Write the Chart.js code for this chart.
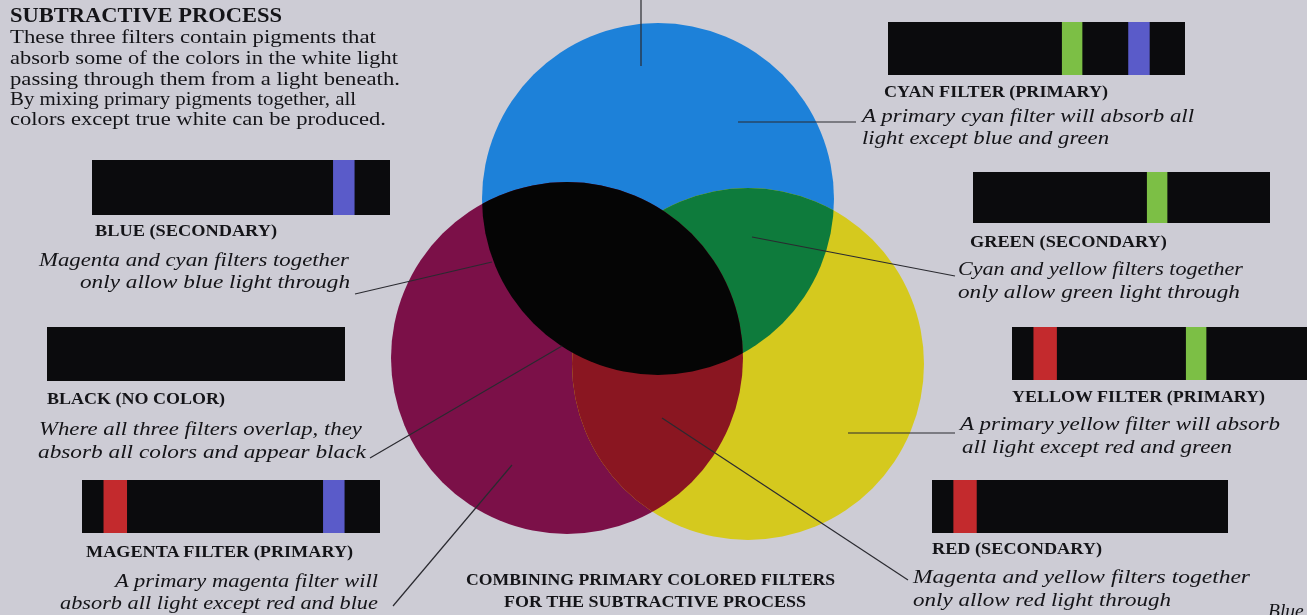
<!DOCTYPE html>
<html>
<head>
<meta charset="utf-8">
<script src="https://cdn.jsdelivr.net/npm/chart.js@4.4.0/dist/chart.umd.min.js"></script>
<style>
  html, body { margin: 0; padding: 0; }
  body {
    width: 1307px; height: 615px; overflow: hidden; position: relative;
    background: #cdccd5; color: #141418;
    font-family: "Liberation Serif", "DejaVu Serif", serif;
  }
  #venn { position: absolute; left: 0; top: 0; }
  .strip { position: absolute; }
  .t { position: absolute; white-space: nowrap; line-height: 1; transform-origin: left center; }
  .h { font-weight: bold; font-size: 20px; }
  .r { font-size: 18.5px; }
  .b { font-weight: bold; font-size: 16.5px; }
  .i { font-style: italic; font-size: 19.5px; }
</style>
</head>
<body>
<canvas id="venn" width="1307" height="615"></canvas>
<div id="strips"></div>
<div id="texts"></div>
<script>
// Three primary filters (centre and radius on the page scale)
const filterNames = ['Cyan', 'Magenta', 'Yellow'];
const filterX = [658, 567, 748];
const filterY = [199, 358, 364];
const filterR = [176, 176, 176];

// Spectrum strips: which bands each filter/combination lets through
const stripNames = ['cyan', 'blue', 'black', 'magenta', 'green', 'yellow', 'red'];
const passRed   = [0, 0, 0, 1, 0, 1, 1];
const passGreen = [1, 0, 0, 0, 1, 1, 0];
const passBlue  = [1, 1, 0, 1, 0, 0, 0];

// Wavelengths in nm
const spectrumNm  = [400, 700];
const redBandNm   = [655, 678];
const greenBandNm = [504, 524];
const blueBandNm  = [436, 457];

// Leader lines from the labels into the circles
const leaderLines = [
  [[641, 0], [641, 66]],
  [[738, 122], [856, 122]],
  [[752, 237], [955, 276]],
  [[355, 294], [492, 262]],
  [[370, 458], [562, 346]],
  [[393, 606], [512, 465]],
  [[662, 418], [908, 580]],
  [[848, 433], [955, 433]]
];

// Colours
const filterColors = ['#1d81d9', '#7b1048', '#d5c91e'];
const overlaps = [
  [0, 2, '#0e7b3c'],  // cyan + yellow = green
  [1, 2, '#8a1621'],  // magenta + yellow = red
  [0, 1, '#050505']   // cyan + magenta = black
];
const bandColors = { red: '#c32a2d', green: '#7cbf45', blue: '#5a5bc9', base: '#0b0b0d' };

// Strip boxes: left, top, width, height
const stripBoxes = [
  [888, 22, 297, 53],
  [92, 160, 298, 55],
  [47, 327, 298, 54],
  [82, 480, 298, 53],
  [973, 172, 297, 51],
  [1012, 327, 297, 53],
  [932, 480, 296, 53]
];

// Text: class, text, left, centre y, width
const labels = [
  ['h', 'SUBTRACTIVE PROCESS', 10, 15, 272],
  ['r', 'These three filters contain pigments that', 10, 38, 366],
  ['r', 'absorb some of the colors in the white light', 10, 59, 388],
  ['r', 'passing through them from a light beneath.', 10, 80, 390],
  ['r', 'By mixing primary pigments together, all', 10, 100, 346],
  ['r', 'colors except true white can be produced.', 10, 120, 376],
  ['b', 'CYAN FILTER (PRIMARY)', 884, 92, 224],
  ['i', 'A primary cyan filter will absorb all', 862, 117, 332],
  ['i', 'light except blue and green', 862, 139, 247],
  ['b', 'BLUE (SECONDARY)', 95, 231, 182],
  ['i', 'Magenta and cyan filters together', 39, 261, 310],
  ['i', 'only allow blue light through', 80, 283, 270],
  ['b', 'BLACK (NO COLOR)', 47, 399, 178],
  ['i', 'Where all three filters overlap, they', 39, 430, 323],
  ['i', 'absorb all colors and appear black', 38, 453, 328],
  ['b', 'MAGENTA FILTER (PRIMARY)', 86, 552, 267],
  ['i', 'A primary magenta filter will', 115, 582, 263],
  ['i', 'absorb all light except red and blue', 60, 604, 318],
  ['b', 'COMBINING PRIMARY COLORED FILTERS', 466, 580, 369],
  ['b', 'FOR THE SUBTRACTIVE PROCESS', 504, 602, 302],
  ['b', 'GREEN (SECONDARY)', 970, 242, 197],
  ['i', 'Cyan and yellow filters together', 958, 270, 285],
  ['i', 'only allow green light through', 958, 293, 282],
  ['b', 'YELLOW FILTER (PRIMARY)', 1012, 397, 253],
  ['i', 'A primary yellow filter will absorb', 960, 425, 320],
  ['i', 'all light except red and green', 962, 448, 270],
  ['b', 'RED (SECONDARY)', 932, 549, 170],
  ['i', 'Magenta and yellow filters together', 913, 578, 337],
  ['i', 'only allow red light through', 913, 601, 258],
  ['i', 'Blue pigment', 1268, 612, 0]
];

// Venn of the three filters, drawn on a page-sized linear scale
const overlapPlugin = {
  id: 'overlaps',
  afterDatasetDraw(chart, args) {
    if (args.index !== 2) return;
    const ctx = chart.ctx;
    const els = [0, 1, 2].map(i => chart.getDatasetMeta(i).data[0]);
    overlaps.forEach(([a, b, color]) => {
      ctx.save();
      [a, b].forEach(k => {
        const e = els[k];
        ctx.beginPath();
        ctx.arc(e.x, e.y, e.options.radius, 0, Math.PI * 2);
        ctx.clip();
      });
      ctx.fillStyle = color;
      ctx.fillRect(0, 0, chart.width, chart.height);
      ctx.restore();
    });
  }
};

const circleSets = filterNames.map((name, i) => ({
  type: 'bubble',
  label: name,
  data: [{ x: filterX[i], y: filterY[i], r: filterR[i] }],
  backgroundColor: filterColors[i],
  borderWidth: 0,
  hoverRadius: 0,
  clip: false,
  order: 3 - i
}));

const lineSets = leaderLines.map(seg => ({
  type: 'line',
  data: seg.map(p => ({ x: p[0], y: p[1] })),
  borderColor: '#2a2a30',
  borderWidth: 1.2,
  pointRadius: 0,
  fill: false,
  tension: 0,
  clip: false,
  order: 0
}));

new Chart(document.getElementById('venn'), {
  type: 'bubble',
  data: { datasets: [...circleSets, ...lineSets] },
  options: {
    responsive: false,
    animation: false,
    events: [],
    layout: { padding: 0, autoPadding: false },
    scales: {
      x: { type: 'linear', min: 0, max: 1307, display: false },
      y: { type: 'linear', min: 0, max: 615, reverse: true, display: false }
    },
    plugins: { legend: { display: false }, tooltip: { enabled: false } }
  },
  plugins: [overlapPlugin]
});

// Spectrum strips as floating horizontal bars
const stripsDiv = document.getElementById('strips');
stripNames.forEach((name, i) => {
  const [l, t, w, h] = stripBoxes[i];
  const c = document.createElement('canvas');
  c.className = 'strip';
  c.width = w; c.height = h;
  c.style.left = l + 'px'; c.style.top = t + 'px';
  stripsDiv.appendChild(c);

  const bands = [];
  if (passRed[i]) bands.push({ data: [redBandNm], backgroundColor: bandColors.red });
  if (passGreen[i]) bands.push({ data: [greenBandNm], backgroundColor: bandColors.green });
  if (passBlue[i]) bands.push({ data: [blueBandNm], backgroundColor: bandColors.blue });
  bands.forEach(b => { b.order = 0; });

  new Chart(c, {
    type: 'bar',
    data: {
      labels: [name],
      datasets: [...bands, { data: [spectrumNm], backgroundColor: bandColors.base, order: 1 }]
    },
    options: {
      indexAxis: 'y',
      responsive: false,
      animation: false,
      events: [],
      layout: { padding: 0, autoPadding: false },
      datasets: { bar: { grouped: false, barPercentage: 1, categoryPercentage: 1, borderWidth: 0 } },
      scales: {
        x: { type: 'linear', min: spectrumNm[0], max: spectrumNm[1], reverse: true, display: false },
        y: { display: false }
      },
      plugins: { legend: { display: false }, tooltip: { enabled: false } }
    }
  });
});

// Text labels, stretched to the widths of the original typesetting
const textsDiv = document.getElementById('texts');
labels.forEach(([cls, text, left, cy, width]) => {
  const d = document.createElement('div');
  d.className = 't ' + cls;
  d.textContent = text;
  textsDiv.appendChild(d);
  const fs = parseFloat(getComputedStyle(d).fontSize);
  const k = (cls === 'b' || cls === 'h') ? 0.5 : 0.55;
  d.style.left = left + 'px';
  d.style.top = (cy - fs * k) + 'px';
  if (width > 0) {
    const actual = d.getBoundingClientRect().width;
    d.style.transform = 'scaleX(' + (width / actual).toFixed(3) + ')';
  }
});
</script>
</body>
</html>
